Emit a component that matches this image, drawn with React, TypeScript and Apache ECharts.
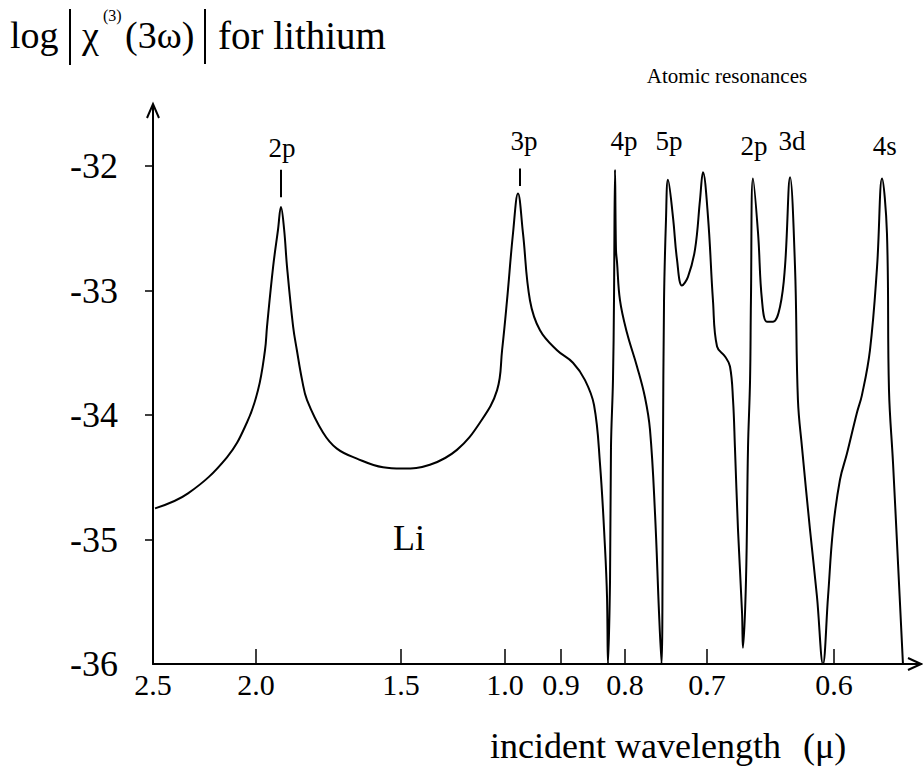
import React, { useEffect, useRef } from "react";
import * as echarts from "echarts";

// ---- axis description (stitched wavelength scale, as drawn in the figure) ----
const tickWavelengths = [2.5, 2.0, 1.5, 1.0, 0.9, 0.8, 0.7, 0.6];
const tickPositions = [0, 103, 248, 352, 408, 472, 554, 681]; // scale units along the drawn axis
const axisEndWavelength = 0.5315;

const yTicks = [-36, -35, -34, -33, -32];
const yMin = -36;
const yMax = -31.51;

// ---- curve: log|chi(3)(3w)| vs incident wavelength (micron) ----
const curveWavelengths = [
  2.49, 2.33, 2.141, 2.044, 1.993, 1.969, 1.962, 1.941, 1.924, 1.914,
  1.903, 1.893, 1.872, 1.859, 1.841, 1.824, 1.769, 1.721, 1.652, 1.562,
  1.495, 1.361, 1.231, 1.12, 1.038, 1.014, 0.9964, 0.9857, 0.9768, 0.9679,
  0.9554, 0.9375, 0.9071, 0.8813, 0.8625, 0.8484, 0.8391, 0.8313, 0.8281, 0.8266,
  0.8234, 0.8219, 0.8188, 0.8172, 0.8156, 0.8141, 0.8125, 0.8078, 0.7976, 0.7854,
  0.7756, 0.7695, 0.7634, 0.7585, 0.7555, 0.7537, 0.7524, 0.75, 0.7476, 0.7415,
  0.7366, 0.7305, 0.7232, 0.7146, 0.7085, 0.7049, 0.6992, 0.6953, 0.6921, 0.6858,
  0.6819, 0.6795, 0.678, 0.6756, 0.6724, 0.6717, 0.6693, 0.6677, 0.6661, 0.6654,
  0.6638, 0.6598, 0.6567, 0.6528, 0.648, 0.6425, 0.6386, 0.6346, 0.6307, 0.6284,
  0.6252, 0.6189, 0.6134, 0.6087, 0.6047, 0.6008, 0.5953, 0.5898, 0.5819, 0.578,
  0.5717, 0.5661, 0.5622, 0.5583, 0.5567, 0.5535, 0.5496, 0.5457,
];
const curveLogChi = [
  -34.75, -34.63, -34.34, -34.06, -33.8, -33.48, -33.29, -32.81, -32.51, -32.33,
  -32.51, -32.81, -33.29, -33.48, -33.72, -33.88, -34.14, -34.27, -34.35, -34.42,
  -34.43, -34.4, -34.28, -34.06, -33.8, -33.48, -33.08, -32.54, -32.22, -32.54,
  -33.08, -33.32, -33.48, -33.58, -33.72, -33.92, -34.39, -35.06, -35.46, -36.0,
  -35.33, -34.26, -33.72, -33.08, -32.03, -32.67, -32.77, -33.08, -33.34, -33.61,
  -33.86, -34.12, -34.79, -35.59, -36.0, -34.28, -33.08, -32.43, -32.11, -32.41,
  -32.75, -32.96, -32.89, -32.67, -32.27, -32.05, -32.41, -33.08, -33.45, -33.53,
  -33.61, -33.88, -34.26, -34.92, -35.59, -35.87, -35.33, -34.26, -33.72, -33.08,
  -32.1, -32.54, -33.08, -33.25, -33.25, -33.13, -32.81, -32.09, -32.81, -33.88,
  -34.26, -34.92, -35.46, -36.0, -35.46, -34.92, -34.52, -34.31, -33.98, -33.84,
  -33.48, -32.81, -32.1, -32.54, -33.8, -34.39, -35.19, -36.0,
];

// ---- resonance annotations ----
const resonanceNames = ["2p", "3p", "4p", "5p", "2p", "3d", "4s"];
const resonanceWavelengths = [1.91, 0.966, 0.8016, 0.7463, 0.663, 0.633, 0.56];
const resonanceLabelLevel = [-31.856, -31.8, -31.8, -31.8, -31.84, -31.8, -31.84];
const markerWavelengths = [1.914, 0.973];
const markerTop = [-32.03, -32.02];
const markerBottom = [-32.25, -32.16];

function posOf(w: number): number {
  const n = tickWavelengths.length;
  let i = 0;
  if (w < tickWavelengths[0]) {
    for (i = 0; i < n - 2; i++) if (w >= tickWavelengths[i + 1]) break;
  }
  const w0 = tickWavelengths[i];
  const w1 = tickWavelengths[i + 1];
  const p0 = tickPositions[i];
  const p1 = tickPositions[i + 1];
  return p0 + ((w0 - w) / (w0 - w1)) * (p1 - p0);
}

const FONT = "'Liberation Serif', 'DejaVu Serif', serif";

export default function App() {
  const ref = useRef<HTMLDivElement>(null);
  useEffect(() => {
    if (!ref.current) return;
    const chart = echarts.init(ref.current, undefined, { renderer: "svg" });
    const xMax = posOf(axisEndWavelength);
    const curve = curveWavelengths.map((w, i) => [posOf(w), curveLogChi[i]]);
    const labels = resonanceNames.map((n, i) => ({
      value: [posOf(resonanceWavelengths[i]), resonanceLabelLevel[i]],
      name: n,
    }));
    const markers = markerWavelengths.map((w, i) => [
      { coord: [posOf(w), markerTop[i]] },
      { coord: [posOf(w), markerBottom[i]] },
    ]);

    chart.setOption({
      animation: false,
      backgroundColor: "#ffffff",
      grid: { left: 153, top: 105, width: xMax, height: 559 },
      xAxis: {
        type: "value",
        min: 0,
        max: xMax,
        splitLine: { show: false },
        axisLine: { show: true, onZero: false, lineStyle: { color: "#000", width: 2 } },
        axisTick: {
          show: true,
          inside: true,
          length: 15,
          customValues: tickPositions.slice(1),
          lineStyle: { color: "#000", width: 1.5 },
        },
        axisLabel: {
          customValues: tickPositions,
          margin: 5,
          color: "#000",
          fontFamily: FONT,
          fontSize: 30,
          formatter: (v: number) => {
            const i = tickPositions.findIndex((p) => Math.abs(p - v) < 0.5);
            return i >= 0 ? tickWavelengths[i].toFixed(1) : "";
          },
        },
      },
      yAxis: {
        type: "value",
        min: yMin,
        max: yMax,
        splitLine: { show: false },
        axisLine: { show: true, onZero: false, lineStyle: { color: "#000", width: 2 } },
        axisTick: {
          show: true,
          length: 8,
          customValues: yTicks.slice(1),
          lineStyle: { color: "#000", width: 1.5 },
        },
        axisLabel: {
          customValues: yTicks,
          margin: 35,
          color: "#000",
          fontFamily: FONT,
          fontSize: 36,
          formatter: (v: number) => String(Math.round(v)),
        },
      },
      series: [
        {
          type: "line",
          data: curve,
          showSymbol: false,
          smooth: 0.4,
          lineStyle: { color: "#000", width: 2 },
          markLine: {
            silent: true,
            symbol: "none",
            label: { show: false },
            lineStyle: { color: "#000", width: 2, type: "solid" },
            data: markers,
          },
        },
        {
          type: "scatter",
          data: labels,
          symbolSize: 0,
          itemStyle: { opacity: 1 },
          label: {
            show: true,
            position: "inside",
            formatter: (p: any) => p.name,
            color: "#000",
            opacity: 1,
            textBorderWidth: 0,
            fontFamily: FONT,
            fontSize: 27,
          },
        },
      ],
      graphic: [
        { type: "text", x: 10, y: 35, style: { text: "log", font: `38px ${FONT}`, fill: "#000", verticalAlign: "middle" } },
        { type: "line", shape: { x1: 70, y1: 9, x2: 70, y2: 65 }, style: { stroke: "#000", lineWidth: 2 } },
        { type: "text", x: 82, y: 35, style: { text: "χ", font: `38px ${FONT}`, fill: "#000", verticalAlign: "middle" } },
        { type: "text", x: 103, y: 15, style: { text: "(3)", font: `16px ${FONT}`, fill: "#000", verticalAlign: "middle" } },
        { type: "text", x: 125, y: 35, style: { text: "(3ω)", font: `38px ${FONT}`, fill: "#000", verticalAlign: "middle" } },
        { type: "line", shape: { x1: 205, y1: 9, x2: 205, y2: 64 }, style: { stroke: "#000", lineWidth: 2 } },
        { type: "text", x: 218, y: 35, style: { text: "for lithium", font: `39px ${FONT}`, fill: "#000", verticalAlign: "middle" } },
        { type: "text", x: 727, y: 76, style: { text: "Atomic resonances", font: `21px ${FONT}`, fill: "#000", align: "center", verticalAlign: "middle" } },
        { type: "text", x: 409, y: 538, style: { text: "Li", font: `36px ${FONT}`, fill: "#000", align: "center", verticalAlign: "middle" } },
        { type: "text", x: 490, y: 746, style: { text: "incident wavelength", font: `36px ${FONT}`, fill: "#000", verticalAlign: "middle" } },
        { type: "text", x: 803, y: 746, style: { text: "(μ)", font: `36px ${FONT}`, fill: "#000", verticalAlign: "middle" } },
        { type: "polyline", shape: { points: [[908, 658], [921, 664], [908, 670]] }, style: { stroke: "#000", lineWidth: 2, fill: "none" } },
        { type: "polyline", shape: { points: [[147, 118], [153, 104], [159, 118]] }, style: { stroke: "#000", lineWidth: 2, fill: "none" } },
      ],
    });
    return () => chart.dispose();
  }, []);
  return (
    <div
      ref={ref}
      style={{ position: "fixed", left: 0, top: 0, width: 923, height: 768, background: "#fff" }}
    />
  );
}
